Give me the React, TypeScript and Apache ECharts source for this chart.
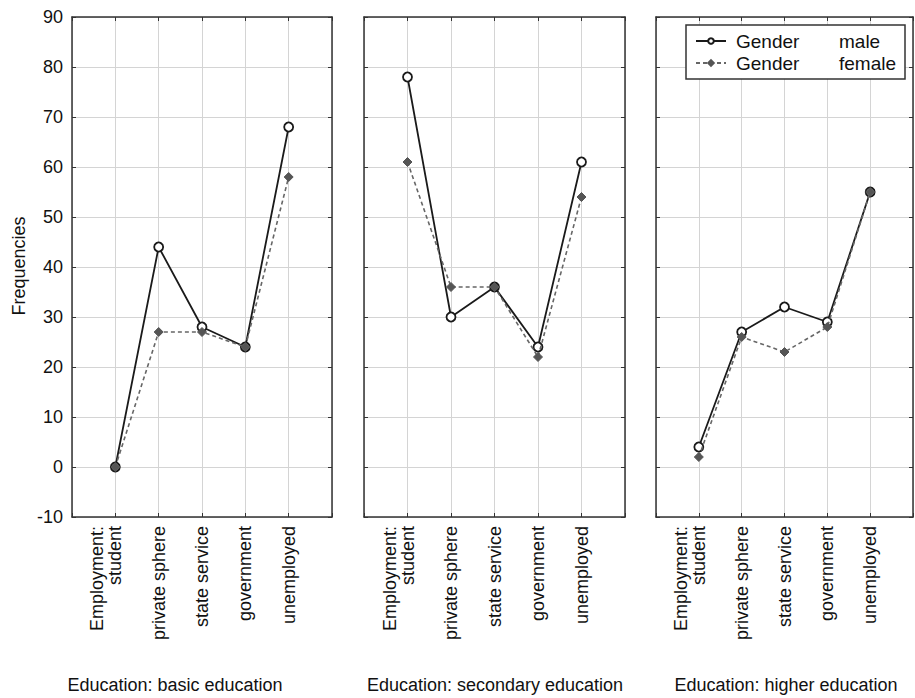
import React, { useEffect, useRef } from "react";
import * as echarts from "echarts";

const categories = ["Employment:\nstudent\n ", "private sphere", "state service", "government", "unemployed"];
const panelTitles = ["Education: basic education", "Education: secondary education", "Education: higher education"];
const yTicks = { min: -10, max: 90, step: 10 };
const yName = "Frequencies";
const legendLabel = "Gender";

const maleBasic = [0, 44, 28, 24, 68];
const femaleBasic = [0, 27, 27, 24, 58];
const maleSecondary = [78, 30, 36, 24, 61];
const femaleSecondary = [61, 36, 36, 22, 54];
const maleHigher = [4, 27, 32, 29, 55];
const femaleHigher = [2, 26, 23, 28, 55];

const maleSeries = [maleBasic, maleSecondary, maleHigher];
const femaleSeries = [femaleBasic, femaleSecondary, femaleHigher];

const FONT = "'Liberation Sans', Arial, sans-serif";
const FRAME = "#333";
const GRIDLINE = "#d4d4d4";

export default function App() {
  const ref = useRef<HTMLDivElement>(null);
  useEffect(() => {
    if (!ref.current) return;
    const chart = echarts.init(ref.current, null, { renderer: "svg" });
    const grids = [
      { left: 72, top: 17, width: 260, height: 500 },
      { left: 364, top: 17, width: 261, height: 500 },
      { left: 656, top: 17, width: 257, height: 500 },
    ];
    const titleX = [175, 495, 786];
    const xAxes: any[] = [];
    const yAxes: any[] = [];
    const series: any[] = [];
    grids.forEach((_, gi) => {
      const common = {
        type: "value",
        gridIndex: gi,
        min: 0,
        max: categories.length + 1,
        interval: 1,
      };
      xAxes.push({
        ...common,
        position: "bottom",
        axisLine: { show: true, onZero: false, lineStyle: { color: FRAME, width: 1.5 } },
        axisTick: { show: true, inside: true, length: 4, lineStyle: { color: FRAME } },
        splitLine: { show: true, lineStyle: { color: GRIDLINE, width: 1 } },
        axisLabel: {
          show: true,
          rotate: 90,
          margin: 9,
          fontSize: 18,
          lineHeight: 18,
          color: "#111",
          fontFamily: FONT,
          formatter: (v: number) => (v >= 1 && v <= categories.length ? categories[v - 1] : ""),
        },
      });
      xAxes.push({
        ...common,
        position: "top",
        axisLine: { show: true, onZero: false, lineStyle: { color: FRAME, width: 1.5 } },
        axisTick: { show: true, inside: true, length: 4, lineStyle: { color: FRAME } },
        splitLine: { show: false },
        axisLabel: { show: false },
      });
      const ycommon = {
        type: "value",
        gridIndex: gi,
        min: yTicks.min,
        max: yTicks.max,
        interval: yTicks.step,
      };
      yAxes.push({
        ...ycommon,
        position: "left",
        axisLine: { show: true, onZero: false, lineStyle: { color: FRAME, width: 1.5 } },
        axisTick: { show: true, inside: true, length: 4, lineStyle: { color: FRAME } },
        splitLine: { show: true, lineStyle: { color: GRIDLINE, width: 1 } },
        axisLabel: {
          show: gi === 0,
          fontSize: 18,
          margin: 9,
          color: "#111",
          fontFamily: FONT,
        },
      });
      yAxes.push({
        ...ycommon,
        position: "right",
        axisLine: { show: true, onZero: false, lineStyle: { color: FRAME, width: 1.5 } },
        axisTick: { show: true, inside: true, length: 4, lineStyle: { color: FRAME } },
        splitLine: { show: false },
        axisLabel: { show: false },
      });
      series.push({
        name: "male",
        type: "line",
        xAxisIndex: gi * 2,
        yAxisIndex: gi * 2,
        data: maleSeries[gi].map((v, i) => [i + 1, v]),
        symbol: "circle",
        symbolSize: 9,
        showAllSymbol: true,
        lineStyle: { color: "#1a1a1a", width: 1.8, type: "solid" },
        itemStyle: { color: "#fff", borderColor: "#1a1a1a", borderWidth: 1.8 },
        z: 2,
      });
      series.push({
        name: "female",
        type: "line",
        xAxisIndex: gi * 2,
        yAxisIndex: gi * 2,
        data: femaleSeries[gi].map((v, i) => [i + 1, v]),
        symbol: "diamond",
        symbolSize: 9,
        showAllSymbol: true,
        lineStyle: { color: "#666", width: 1.6, type: [4, 3] },
        itemStyle: { color: "#555", borderColor: "#555", borderWidth: 1 },
        z: 3,
      });
    });

    const graphics: any[] = panelTitles.map((t, i) => ({
      type: "text",
      x: titleX[i],
      y: 685,
      style: {
        text: t,
        font: `18px ${FONT}`,
        fill: "#111",
        align: "center",
        verticalAlign: "middle",
      },
    }));
    graphics.push({
      type: "text",
      x: 18.5,
      y: 266,
      rotation: Math.PI / 2,
      style: {
        text: yName,
        font: `18px ${FONT}`,
        fill: "#111",
        align: "center",
        verticalAlign: "middle",
      },
    });

    chart.setOption({
      animation: false,
      backgroundColor: "#fff",
      grid: grids,
      xAxis: xAxes,
      yAxis: yAxes,
      series,
      graphic: graphics,
      legend: {
        data: ["male", "female"],
        orient: "vertical",
        left: 686,
        top: 25,
        padding: [5, 8, 5, 9],
        itemGap: 0,
        itemWidth: 30,
        itemHeight: 7,
        backgroundColor: "#fff",
        borderColor: FRAME,
        borderWidth: 1.5,
        borderRadius: 0,
        formatter: (name: string) => `{a|${legendLabel}}{b|${name}}`,
        textStyle: {
          fontFamily: FONT,
          fontSize: 19,
          color: "#111",
          lineHeight: 22,
          rich: {
            a: { width: 103, padding: [0, 0, 0, 5], fontSize: 19, fontFamily: FONT, color: "#111" },
            b: { width: 58, fontSize: 19, fontFamily: FONT, color: "#111" },
          },
        },
      },
    });
    return () => chart.dispose();
  }, []);
  return (
    <div
      ref={ref}
      style={{ position: "absolute", left: 0, top: 0, width: 915, height: 698, background: "#fff" }}
    />
  );
}
